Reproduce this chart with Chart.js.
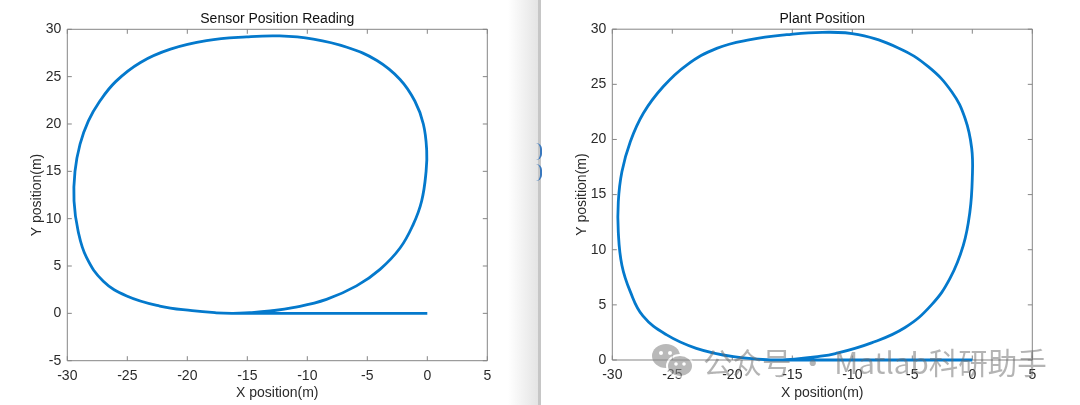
<!DOCTYPE html>
<html>
<head>
<meta charset="utf-8">
<script src="https://cdn.jsdelivr.net/npm/chart.js@4.4.1/dist/chart.umd.min.js"></script>
<style>
  html, body { margin: 0; padding: 0; background: #fff; }
  #wrap { position: relative; width: 1080px; height: 405px; overflow: hidden; background: #fff; }
  #sensorBox { position: absolute; left: 0; top: 0; width: 540px; height: 405px; }
  #plantBox { position: absolute; left: 545px; top: 0; width: 535px; height: 405px; }
  #shade { position: absolute; left: 508px; top: 0; width: 30px; height: 405px;
    background: linear-gradient(to right, rgba(240,240,240,0), #e4e4e4); }
  #divider { position: absolute; left: 538px; top: 0; width: 3px; height: 405px; background: #c6c6c6; }
  .blip { position: absolute; left: 536px; width: 4px; height: 17px;
    border-right: 2px solid #3a78bd; border-radius: 0 10px 10px 0; }
  #mark { position: absolute; left: 651px; top: 340px; display: flex; align-items: center;
    font-family: "Noto Sans CJK SC", "Noto Sans", sans-serif; font-size: 29.5px;
    color: rgba(105,105,105,0.5); white-space: nowrap; }
  #mark svg { margin-right: 8px; opacity: 0.6; }
</style>
</head>
<body>
<div id="wrap">
  <div id="sensorBox"><canvas id="sensorChart"></canvas></div>
  <div id="plantBox"><canvas id="plantChart"></canvas></div>
  <div id="shade"></div>
  <div id="divider"></div>
  <div class="blip" style="top:143px"></div>
  <div class="blip" style="top:164px"></div>
  <div id="mark">
    <svg width="44" height="36" viewBox="0 0 44 36">
      <ellipse cx="15" cy="13" rx="14" ry="12" fill="#8a8a8a"/>
      <ellipse cx="29" cy="23" rx="13" ry="11" fill="#8a8a8a" stroke="#fff" stroke-width="2"/>
      <circle cx="10" cy="10" r="2" fill="#fff"/><circle cx="19" cy="10" r="2" fill="#fff"/>
      <circle cx="25" cy="21" r="1.8" fill="#fff"/><circle cx="33" cy="21" r="1.8" fill="#fff"/>
    </svg>
    <span>公众号&nbsp;·&nbsp;Matlab科研助手</span>
  </div>
</div>
<script>
// sensor reading path (m)
var sensorX = [0, -5, -10, -14, -16.2, -17.6, -19.6, -22.3, -25.05, -27.0, -28.4, -29.1, -29.44, -29.36, -28.94,
  -28.25, -27.35, -25.95, -23.9, -21.4, -18.4, -15.05, -12.3, -9.5, -6.7, -4.2, -2.27, -1.03, -0.33, -0.05,
  -0.1, -0.47, -1.17, -2.27, -3.94, -5.9, -8.4, -11.2, -13.1, -14.8, -16.2];
var sensorY = [0, 0, 0, 0, 0, 0.06, 0.28, 0.77, 1.83, 3.4, 5.9, 8.7, 11.87, 15.0, 17.86,
  20.3, 22.3, 24.5, 26.5, 27.9, 28.8, 29.2, 29.3, 28.96, 28.1, 26.7, 24.7, 22.4, 20.0, 17.2,
  15.0, 11.87, 9.4, 6.9, 4.65, 2.9, 1.48, 0.6, 0.25, 0.07, 0];

// plant position path (m)
var plantX = [0, -5, -10, -14, -16.6, -19.9, -23.0, -25.5, -27.45, -28.5, -29.2, -29.5, -29.5, -29.2, -28.5,
  -27.4, -25.75, -23.8, -21.3, -18.5, -15.47, -12.5, -9.5, -6.17, -3.67, -1.7, -0.6, -0.05, 0,
  -0.2, -0.75, -1.86, -3.4, -5.6, -8.4, -11.4, -13.1, -14.8, -16.0];
var plantY = [0, 0, 0, 0, 0, 0.3, 1.06, 2.3, 4.0, 6.2, 8.6, 11.6, 14.35, 17.07, 19.8,
  22.4, 24.8, 26.75, 28.26, 29.05, 29.5, 29.72, 29.5, 28.3, 26.6, 24.3, 21.9, 19.2, 16.5,
  13.45, 10.4, 7.4, 5.0, 2.95, 1.55, 0.58, 0.28, 0.08, 0];

var xTicks = [-30, 5];
var sensorYRange = [-5, 30];
var plantYRange = [0, 30];

var lineColor = '#0479cc';
var boxColor = '#858585';
var textColor = '#2b2b2b';
var fontFamily = 'Arial, "Liberation Sans", Helvetica, sans-serif';

function toPoints(xs, ys) {
    return xs.map(function (v, i) { return { x: v, y: ys[i] }; });
}

// MATLAB style box with inward ticks on all four sides
var matlabBox = {
    id: 'matlabBox',
    beforeDatasetsDraw: function (chart) {
        var ctx = chart.ctx, a = chart.chartArea, sx = chart.scales.x, sy = chart.scales.y;
        var tl = 4.5;
        ctx.save();
        ctx.strokeStyle = boxColor;
        ctx.lineWidth = 1;
        ctx.beginPath();
        ctx.rect(a.left, a.top, a.right - a.left, a.bottom - a.top);
        sx.ticks.forEach(function (t) {
            var p = sx.getPixelForValue(t.value);
            ctx.moveTo(p, a.bottom); ctx.lineTo(p, a.bottom - tl);
            ctx.moveTo(p, a.top); ctx.lineTo(p, a.top + tl);
        });
        sy.ticks.forEach(function (t) {
            var p = sy.getPixelForValue(t.value);
            ctx.moveTo(a.left, p); ctx.lineTo(a.left + tl, p);
            ctx.moveTo(a.right, p); ctx.lineTo(a.right - tl, p);
        });
        ctx.stroke();
        ctx.restore();
    }
};

function renderChart(id, title, xs, ys, yRange, pad, xHeight) {
    var ctx = document.getElementById(id).getContext('2d');
    return new Chart(ctx, {
        type: 'scatter',
        data: {
            datasets: [{
                data: toPoints(xs, ys),
                showLine: true,
                borderColor: lineColor,
                borderWidth: 2.8,
                pointRadius: 0,
                tension: 0.42,
                clip: false
            }]
        },
        options: {
            responsive: false,
            animation: false,
            devicePixelRatio: 1,
            layout: { padding: { left: 0, right: pad.right, top: 0, bottom: 0 } },
            plugins: {
                legend: { display: false },
                tooltip: { enabled: false },
                title: {
                    display: true,
                    text: title,
                    fullSize: false,
                    color: '#111',
                    font: { family: fontFamily, size: 14, weight: 'normal' },
                    padding: { top: 11, bottom: pad.titleBottom }
                }
            },
            scales: {
                x: {
                    type: 'linear',
                    min: xTicks[0], max: xTicks[1],
                    afterFit: function (s) { s.height = xHeight; },
                    grid: { display: false, drawTicks: false },
                    border: { display: false },
                    ticks: { stepSize: 5, padding: 7, color: textColor, font: { family: fontFamily, size: 14 } },
                    title: {
                        display: true, text: 'X position(m)', color: textColor,
                        font: { family: fontFamily, size: 14 }, padding: { top: 0, bottom: 3.5 }
                    }
                },
                y: {
                    type: 'linear',
                    min: yRange[0], max: yRange[1],
                    afterFit: function (s) { s.width = 67.3; },
                    grid: { display: false, drawTicks: false },
                    border: { display: false },
                    ticks: { stepSize: 5, padding: 6, color: textColor, font: { family: fontFamily, size: 14 } },
                    title: {
                        display: true, text: 'Y position(m)', color: textColor,
                        font: { family: fontFamily, size: 14 }, padding: { top: 28.5, bottom: 0 }
                    }
                }
            }
        },
        plugins: [matlabBox]
    });
}

document.getElementById('sensorChart').width = 540;
document.getElementById('sensorChart').height = 405;
document.getElementById('plantChart').width = 535;
document.getElementById('plantChart').height = 405;

var sensorChart = renderChart('sensorChart', 'Sensor Position Reading', sensorX, sensorY, sensorYRange,
    { right: 52.7, titleBottom: 1.5 }, 44.3);
var plantChart = renderChart('plantChart', 'Plant Position', plantX, plantY, plantYRange,
    { right: 47.7, titleBottom: 1.4 }, 45);
</script>
</body>
</html>
